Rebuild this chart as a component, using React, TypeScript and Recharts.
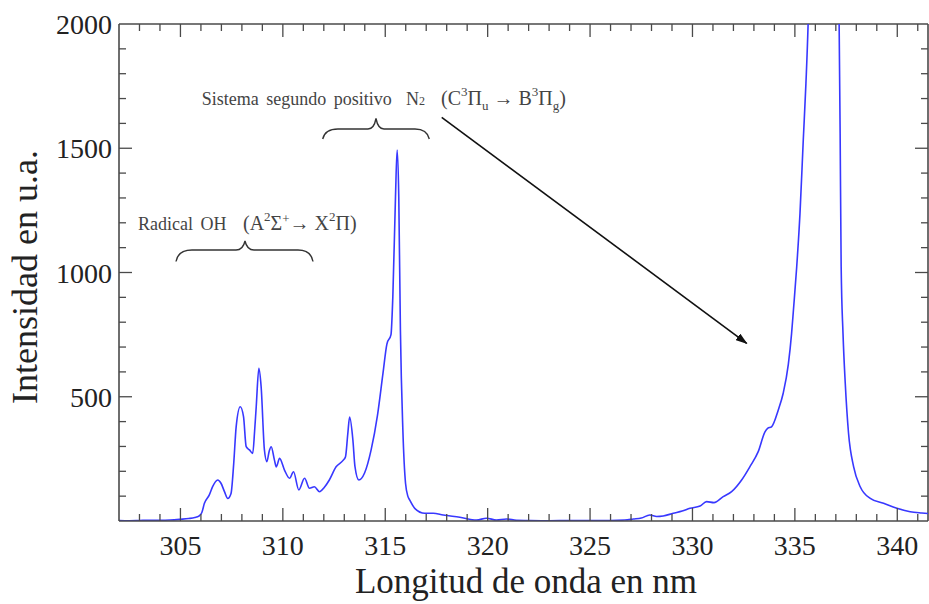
import React from 'react';
import { LineChart, Line, XAxis, YAxis, ReferenceLine } from 'recharts';

// Wavelength (nm) and intensity (a.u.)
const wavelengths: number[] = [
  302.0, 302.5, 303.0, 303.5, 304.0, 304.5, 305.0, 305.4, 305.7, 305.9,
  306.04, 306.17, 306.41, 306.57, 306.82, 306.98, 307.15, 307.31, 307.47, 307.6,
  307.72, 307.92, 308.08, 308.21, 308.37, 308.53, 308.62, 308.7, 308.83, 308.94,
  309.1, 309.22, 309.33, 309.43, 309.59, 309.68, 309.84, 310.08, 310.33, 310.52,
  310.78, 311.06, 311.3, 311.54, 311.79, 312.02, 312.27, 312.6, 312.93, 313.06,
  313.17, 313.26, 313.42, 313.52, 313.71, 313.99, 314.31, 314.62, 314.89, 315.08,
  315.28, 315.37, 315.5, 315.58, 315.66, 315.74, 315.86, 315.99, 316.11, 316.19,
  316.44, 316.93, 317.34, 317.83, 318.64, 319.46, 319.94, 320.43, 320.92, 321.4,
  322.0, 323.0, 324.0, 325.0, 326.0, 326.7, 327.11, 327.5, 327.92, 328.25,
  328.57, 329.06, 329.5, 329.88, 330.37, 330.69, 331.05, 331.5, 331.91, 332.4,
  332.8, 333.21, 333.54, 333.67, 333.86, 334.19, 334.43, 334.68, 334.84, 334.93,
  335.09, 335.25, 335.41, 335.54, 335.65, 335.8, 336.0, 336.4, 336.8, 337.0,
  337.16, 337.21, 337.26, 337.35, 337.46, 337.62, 337.87, 338.19, 338.68, 339.33,
  339.98, 340.63, 341.2, 341.5,
];

const intensities: number[] = [
  2, 1, 2, 3, 3, 4, 7, 10, 14, 20,
  33, 71, 105, 138, 165, 152, 118, 91, 111, 230,
  379, 460, 420, 299, 286, 272, 360, 460, 614, 540,
  286, 239, 280, 299, 245, 218, 252, 205, 172, 198,
  125, 172, 132, 138, 118, 135, 165, 218, 243, 259,
  350, 418, 326, 220, 165, 193, 286, 425, 595, 712,
  750, 903, 1305, 1493, 1305, 769, 366, 152, 98, 85,
  51, 31, 31, 24, 15, 4, 11, 4, 8, 3,
  2, 1, 2, 2, 2, 4, 8, 12, 24, 18,
  20, 31, 40, 51, 60, 78, 74, 98, 118, 165,
  218, 279, 359, 373, 379, 447, 514, 630, 755, 849,
  1023, 1238, 1533, 1761, 2010, 2600, 3400, 4200, 3400, 2600,
  2010, 1560, 1023, 755, 554, 353, 218, 138, 91, 71,
  51, 37, 32, 30,
];

const xTicks: number[] = [303, 304, 305, 306, 307, 308, 309, 310, 311, 312, 313, 314, 315, 316, 317, 318, 319, 320, 321, 322, 323, 324, 325, 326, 327, 328, 329, 330, 331, 332, 333, 334, 335, 336, 337, 338, 339, 340, 341];
const yTicks: number[] = [100, 200, 300, 400, 500, 600, 700, 800, 900, 1000, 1100, 1200, 1300, 1400, 1500, 1600, 1700, 1800, 1900, 2000];
const xLabelled: number[] = [305, 310, 315, 320, 325, 330, 335, 340];
const yLabelled: number[] = [500, 1000, 1500, 2000];
const xDomain: [number, number] = [302, 341.5];
const yDomain: [number, number] = [0, 2000];

const data = wavelengths.map((x, i) => ({ x, v: intensities[i] }));

const FONT = 'Liberation Serif, DejaVu Serif, serif';
const AXIS = '#4a4a4a';
const TEXT = '#222';
const ANN = '#444';
const serif = { fontFamily: FONT };

// layout of the plot frame (chart margins)
const PLOT_TOP = 24;
const PLOT_RIGHT = 928;

const BottomTick = (props: any) => {
  const { x, y, payload } = props;
  const v = payload.value;
  const len = v % 5 === 0 ? 13 : 7;
  return (
    <g>
      <line x1={x} x2={x} y1={y} y2={y - len} stroke={AXIS} strokeWidth={1.3} />
      <line x1={x} x2={x} y1={PLOT_TOP} y2={PLOT_TOP + len} stroke={AXIS} strokeWidth={1.3} />
      {xLabelled.includes(v) && (
        <text x={x} y={y + 34} textAnchor="middle" fontSize={28} style={serif} fill={TEXT}>{v}</text>
      )}
    </g>
  );
};

const LeftTick = (props: any) => {
  const { x, y, payload } = props;
  const v = payload.value;
  const len = v % 500 === 0 ? 13 : 7;
  return (
    <g>
      {v < 2000 && <line x1={x} x2={x + len} y1={y} y2={y} stroke={AXIS} strokeWidth={1.3} />}
      {v < 2000 && <line x1={PLOT_RIGHT} x2={PLOT_RIGHT - len} y1={y} y2={y} stroke={AXIS} strokeWidth={1.3} />}
      {yLabelled.includes(v) && (
        <text x={x - 7} y={y + 10} textAnchor="end" fontSize={28} style={serif} fill={TEXT}>{v}</text>
      )}
    </g>
  );
};

export default function App() {
  return (
    <div style={{ position: 'absolute', left: 0, top: 0, width: 929, height: 604, background: '#fff' }}>
      <LineChart width={929} height={604} data={data} margin={{ top: PLOT_TOP, right: 929 - PLOT_RIGHT, bottom: 0, left: 0 }}>
        <XAxis
          dataKey="x"
          type="number"
          domain={xDomain}
          allowDataOverflow
          ticks={xTicks}
          interval={0}
          height={83}
          tickSize={0}
          tickMargin={0}
          tickLine={false}
          axisLine={{ stroke: AXIS, strokeWidth: 1.6 }}
          tick={<BottomTick />}
        />
        <YAxis
          type="number"
          domain={yDomain}
          allowDataOverflow
          ticks={yTicks}
          interval={0}
          width={119}
          tickSize={0}
          tickMargin={0}
          tickLine={false}
          axisLine={{ stroke: AXIS, strokeWidth: 1.6 }}
          tick={<LeftTick />}
        />
        <ReferenceLine y={yDomain[1]} stroke={AXIS} strokeWidth={1.6} ifOverflow="visible" />
        <ReferenceLine x={xDomain[1]} stroke={AXIS} strokeWidth={1.6} ifOverflow="visible" />
        <Line
          type="monotone"
          dataKey="v"
          stroke="#3838ff"
          strokeWidth={1.6}
          dot={false}
          activeDot={false}
          isAnimationActive={false}
        />
      </LineChart>
      <svg width={929} height={604} style={{ position: 'absolute', left: 0, top: 0, pointerEvents: 'none', fontFamily: FONT }}>
        <defs>
          <marker id="ah" markerWidth="12" markerHeight="8" refX="11" refY="4" orient="auto" markerUnits="userSpaceOnUse">
            <path d="M0,0 L12,4 L0,8 z" fill="#111" />
          </marker>
        </defs>
        <text x={37} y={277} transform="rotate(-90 37 277)" textAnchor="middle" fontSize={36} style={serif} fill={TEXT}>
          Intensidad en u.a.
        </text>
        <text x={526} y={593} textAnchor="middle" fontSize={35} style={serif} fill={TEXT}>
          Longitud de onda en nm
        </text>

        <text x={138} y={230} fontSize={18} style={serif} fill={ANN} wordSpacing={3}>Radical OH</text>
        <text x={243} y={230} fontSize={20} style={serif} fill={ANN}>
          (A<tspan fontSize={13} dy={-9}>2</tspan><tspan dy={9}>Σ</tspan><tspan fontSize={13} dy={-7}>+</tspan><tspan dy={7}>→ X</tspan><tspan fontSize={13} dy={-9}>2</tspan><tspan dy={9}>Π)</tspan>
        </text>
        <path d="M176,261.5 Q178,250 192,250 L236,250 Q243,250 245,241 Q247,250 254,250 L298,250 Q311,250 313,261.5" fill="none" stroke="#333" strokeWidth={1.4} />

        <text x={201.7} y={105} fontSize={18} style={serif} fill={ANN} wordSpacing={3}>Sistema segundo positivo</text>
        <text x={406} y={105} fontSize={18} style={serif} fill={ANN}>N<tspan fontSize={12}>2</tspan></text>
        <text x={441} y={105} fontSize={20} style={serif} fill={ANN}>
          (C<tspan fontSize={13} dy={-9}>3</tspan><tspan dy={9}>Π</tspan><tspan fontSize={13} dy={5}>u</tspan><tspan dy={-5}> → B</tspan><tspan fontSize={13} dy={-9}>3</tspan><tspan dy={9}>Π</tspan><tspan fontSize={13} dy={5}>g</tspan><tspan dy={-5}>)</tspan>
        </text>
        <path d="M322.7,139 Q325,129 338,129 L368,129 Q374,129 376,118.5 Q378,129 384,129 L415,129 Q427,129 429.3,139" fill="none" stroke="#333" strokeWidth={1.4} />

        <line x1={441.7} y1={117.3} x2={746.7} y2={343.3} stroke="#111" strokeWidth={1.6} markerEnd="url(#ah)" />
      </svg>
    </div>
  );
}
